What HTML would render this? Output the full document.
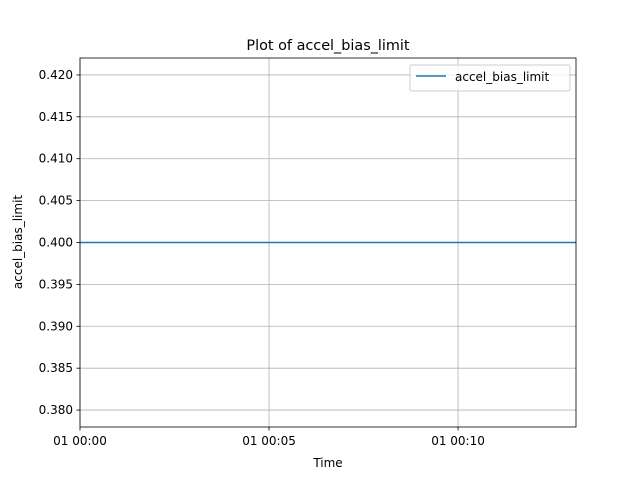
<!DOCTYPE html>
<html><head><meta charset="utf-8"><style>
body{margin:0;background:#fff;font-family:"Liberation Sans","DejaVu Sans",sans-serif;}
svg text{font-family:"DejaVu Sans","Liberation Sans",sans-serif;fill:#000;}
</style></head><body>
<svg id="chart" width="640" height="480" viewBox="0 0 640 480">
<rect width="640" height="480" fill="#fff"/>
<text x="328" y="50" font-size="14.4" text-anchor="middle">Plot of accel_bias_limit</text>
<g id="grid"></g><g id="series"></g><g id="axes"></g>
<text x="328" y="467" font-size="12" text-anchor="middle">Time</text>
<text transform="translate(22,242) rotate(-90)" font-size="12" text-anchor="middle">accel_bias_limit</text>
<g>
<rect x="410" y="65" width="160" height="26" rx="2" fill="#fff" fill-opacity="0.8" stroke="#ccc"/>
<line x1="416" y1="76" x2="446" y2="76" stroke="#1f77b4" stroke-width="1.5"/>
<text x="455" y="81" font-size="12">accel_bias_limit</text>
</g>
</svg>
<script>
const timesMin=[0,1,2,3,4,5,6,7,8,9,10,11,12,13.12];
const values=[0.4,0.4,0.4,0.4,0.4,0.4,0.4,0.4,0.4,0.4,0.4,0.4,0.4,0.4];
const yTicks=[0.380,0.385,0.390,0.395,0.400,0.405,0.410,0.415,0.420];
const xTicks=[0,5,10];
const xTickLabels=["01 00:00","01 00:05","01 00:10"];
const L=80,R=576,T=58,B=427,ymin=0.37798,ymax=0.42202,xmin=0,xmax=13.12;
const NS="http://www.w3.org/2000/svg";
const sx=v=>L+(v-xmin)/(xmax-xmin)*(R-L);
const sy=v=>B-(v-ymin)/(ymax-ymin)*(B-T);
function mk(tag,attrs,parent){const e=document.createElementNS(NS,tag);for(const k in attrs)e.setAttribute(k,attrs[k]);parent.appendChild(e);return e;}
const g=document.getElementById('grid'),ax=document.getElementById('axes'),se=document.getElementById('series');
yTicks.forEach(t=>{const y=sy(t);
 const gl=mk('line',{x1:L,x2:R,y1:y,y2:y,stroke:'#b0b0b0','stroke-width':0.8},g);
 
 
 mk('line',{x1:L-3.5,x2:L,y1:y,y2:y,stroke:'#000','stroke-width':0.8},ax);
 const tx=mk('text',{x:L-7,y:y+4,'font-size':12,'text-anchor':'end'},ax);tx.textContent=t.toFixed(3);
 
 
});
xTicks.forEach((t,i)=>{const x=sx(t);
 const gl=mk('line',{x1:x,x2:x,y1:T,y2:B,stroke:'#b0b0b0','stroke-width':0.8},g);
 
 
 mk('line',{x1:x,x2:x,y1:B,y2:B+3.5,stroke:'#000','stroke-width':0.8},ax);
 const tx=mk('text',{x:x,y:B+18,'font-size':12,'text-anchor':'middle'},ax);tx.textContent=xTickLabels[i];
 
 
});
const fr=mk('rect',{x:L,y:T,width:R-L,height:B-T,fill:'none',stroke:'#000','stroke-width':0.8},ax);


const pl=mk('polyline',{points:timesMin.map((t,i)=>sx(t)+','+sy(values[i])).join(' '),fill:'none',stroke:'#1f77b4','stroke-width':1.5},se);


</script>
</body></html>
